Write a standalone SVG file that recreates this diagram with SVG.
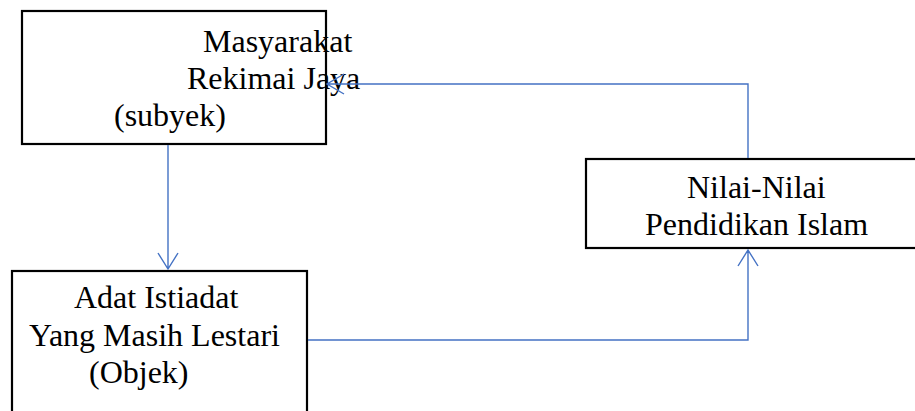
<svg xmlns="http://www.w3.org/2000/svg" width="915" height="411" viewBox="0 0 915 411">
<style>
.box{fill:#fff;stroke:#000;stroke-width:2.2}
.t{font-family:"Liberation Serif","Times New Roman",serif;font-size:32px;fill:#000}
.c{fill:none;stroke:#4472C4;stroke-width:1.4}
</style>
<rect width="915" height="411" fill="#fff"/>
<g id="masyarakat">
<rect class="box" x="22" y="11" width="304" height="133"/>
<text class="t" x="203" y="52">Masyarakat</text>
<text class="t" x="187" y="89">Rekimai Jaya</text>
<text class="t" x="114" y="126">(subyek)</text>
</g>
<g id="adat">
<rect class="box" x="12" y="271" width="295" height="160"/>
<text class="t" x="74" y="308">Adat Istiadat</text>
<text class="t" x="29" y="346">Yang Masih Lestari</text>
<text class="t" x="89" y="383">(Objek)</text>
</g>
<g id="nilai">
<rect class="box" x="586" y="159" width="340" height="89"/>
<text class="t" x="687" y="198">Nilai-Nilai</text>
<text class="t" x="645" y="235">Pendidikan Islam</text>
</g>
<g id="connectors">
<path class="c" d="M168 145 V269 M158 253 L168 269 L178 253"/>
<path class="c" d="M308 340 H748 V250 M738 266 L748 250 L758 266"/>
<path class="c" d="M748 158 V84 H327 M344 74 L327 84 L344 94"/>
</g>
</svg>
